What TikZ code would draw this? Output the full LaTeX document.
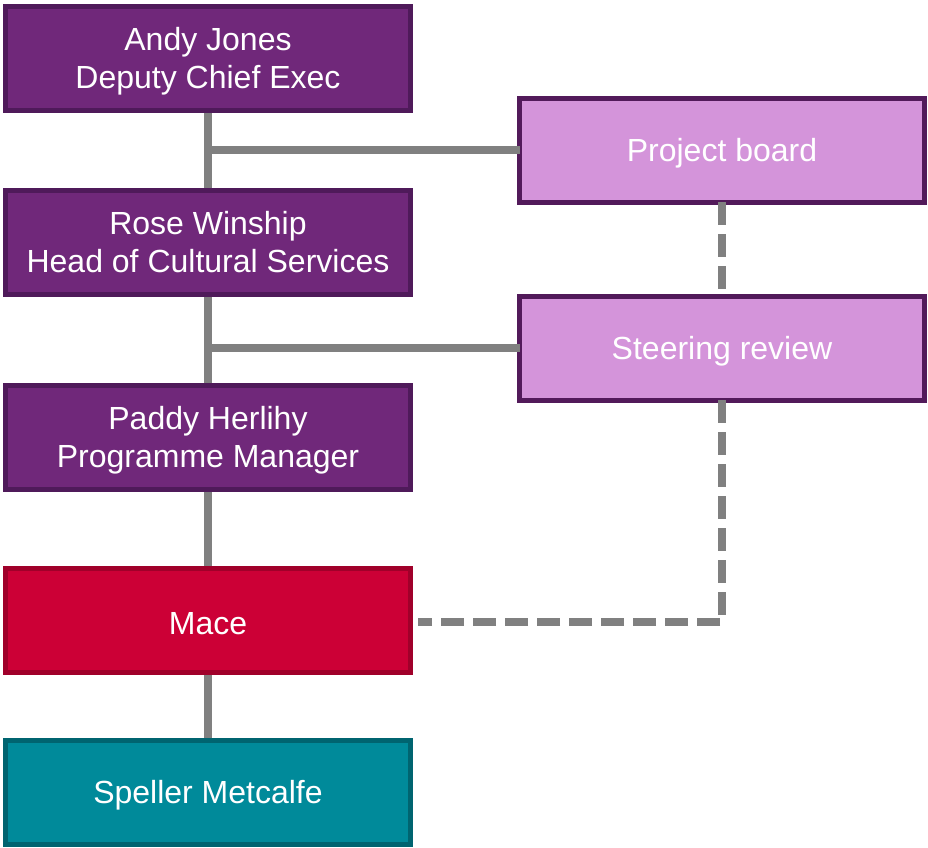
\documentclass[tikz,border=0pt]{standalone}
\usepackage{fontspec}
\setmainfont{Liberation Sans}
\usetikzlibrary{calc,positioning}

\definecolor{plumFill}{HTML}{70287A}
\definecolor{plumDraw}{HTML}{4F1A5A}
\definecolor{lilacFill}{HTML}{D494DA}
\definecolor{lilacDraw}{HTML}{521A5A}
\definecolor{maceFill}{HTML}{CC0036}
\definecolor{maceDraw}{HTML}{A0002A}
\definecolor{tealFill}{HTML}{008A9A}
\definecolor{tealDraw}{HTML}{006470}
\definecolor{linkGray}{HTML}{808080}

\begin{document}
\begin{tikzpicture}[x=1pt,y=-1pt]
    \tikzstyle{box} = [draw, outer sep=0pt, line width=5pt, text=white, align=center,
        font=\fontsize{32}{38}\selectfont, minimum width=\blockWidth, minimum height=\blockHeight,
        execute at begin node={\rule{0pt}{30pt}}]
    \tikzstyle{staff} = [box, fill=plumFill, draw=plumDraw, text depth=0pt]
    \tikzstyle{group} = [box, fill=lilacFill, draw=lilacDraw]
    \tikzstyle{line} = [draw, linkGray, line width=8pt]
    \tikzstyle{dashed line} = [draw, linkGray, line width=8pt, dash pattern=on 23pt off 9pt]

    \def\blockWidth{405pt}
    \def\blockHeight{104pt}

    \useasboundingbox (0,0) rectangle (928,847);

    % connectors first, so the boxes sit on top
    \coordinate (trunkTop) at (208,58);
    \coordinate (trunkBot) at (208,792);
    \path [line] (trunkTop) -- (trunkBot);

    \node[staff] (AJ) at (208,58) {Andy Jones\\Deputy Chief Exec};
    \node[staff] (RW) at (208,242) {Rose Winship\\Head of Cultural Services};
    \node[staff] (PH) at (208,437) {Paddy Herlihy\\Programme Manager};
    \node[box, fill=maceFill, draw=maceDraw] (Mace) at (208,620) {Mace};
    \node[box, fill=tealFill, draw=tealDraw] (SMet) at (208,792) {Speller Metcalfe};

    \node[group] (Board) at (722,150) {Project board};
    \node[group] (Steer) at (722,348) {Steering review};

    \coordinate (jBoard) at (AJ.south |- Board.west);
    \coordinate (jSteer) at (RW.south |- Steer.west);

    \path [line] (jBoard) -- (Board.west);
    \path [line] (jSteer) -- (Steer.west);

    \path [dashed line] (Board.south) -- (Steer.north);
    \path [dashed line] (Steer.south) |- ([yshift=-2pt]Mace.east) [shorten >=7pt];
\end{tikzpicture}
\end{document}
